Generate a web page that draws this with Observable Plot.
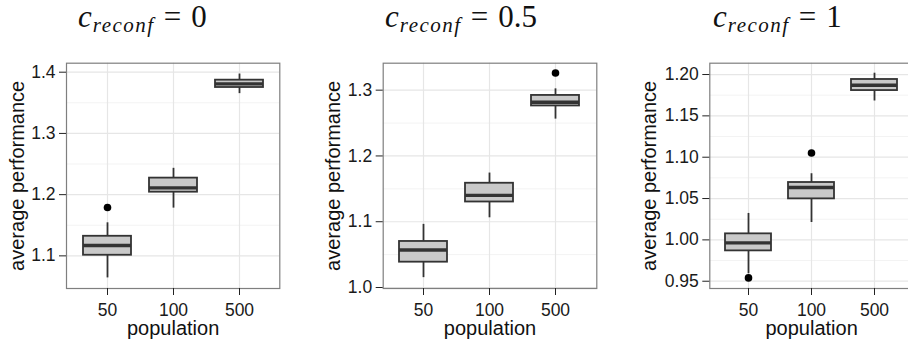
<!DOCTYPE html>
<html>
<head>
<meta charset="utf-8">
<script src="https://cdn.jsdelivr.net/npm/d3@7"></script>
<script src="https://cdn.jsdelivr.net/npm/@observablehq/plot@0.6"></script>
<style>
  body { margin: 0; background: white; }
  #root { position: relative; width: 908px; height: 341px; overflow: hidden; background: white; }
  .panel { position: absolute; top: 0; }
  .title { position: absolute; top: 1px; white-space: nowrap; line-height: 1; font-family: "Liberation Serif", "DejaVu Serif", serif; color: #111; }
  .title .c { font-style: italic; font-size: 31px; }
  .title .sub { font-style: italic; font-size: 21px; letter-spacing: 1.5px; position: relative; top: 5px; margin-left: 1px; }
  .title .eq { font-size: 31px; margin-left: 9px; }
  .title .num { font-size: 31px; margin-left: 10px; }
</style>
</head>
<body>
<div id="root"></div>
<script>
// ---- data ----
const populations = ["50", "100", "500"];
const panelLabels = ["0", "0.5", "1"];

// box statistics per panel (c_reconf = 0, 0.5, 1), each in population order 50, 100, 500
const whiskerLow  = [[1.064, 1.178, 1.365], [1.015, 1.106, 1.256], [0.959, 1.021, 1.168]];
const quartile1   = [[1.101, 1.204, 1.375], [1.0385, 1.130, 1.276], [0.9867, 1.0496, 1.1806]];
const median      = [[1.117, 1.211, 1.381], [1.057, 1.140, 1.2816], [0.9964, 1.0633, 1.187]];
const quartile3   = [[1.132, 1.227, 1.387], [1.070, 1.1585, 1.292], [1.0073, 1.0694, 1.194]];
const whiskerHigh = [[1.154, 1.243, 1.397], [1.096, 1.174, 1.302], [1.032, 1.080, 1.2016]];

// outliers
const outlierPanel = [0, 1, 2, 2];
const outlierPop   = ["50", "500", "50", "100"];
const outlierValue = [1.179, 1.326, 0.954, 1.105];

// y axes
const yDomains = [[1.0467, 1.4147], [0.9985, 1.341], [0.9412, 1.2137]];
const yTicks = [[1.1, 1.2, 1.3, 1.4], [1.0, 1.1, 1.2, 1.3], [0.95, 1.00, 1.05, 1.10, 1.15, 1.20]];
const yMinor = [[1.15, 1.25, 1.35], [1.05, 1.15, 1.25], [0.975, 1.025, 1.075, 1.125, 1.175]];
const yTickFormats = [".1f", ".1f", ".2f"];

// ---- layout (page pixels) ----
const svgLeft = [0, 300, 605];
const svgWidth = [300, 305, 320];
const mLeft = [66, 82.7, 104.3];
const mRight = [20.7, 8.7, 12];
const yLabelDx = [-42.7, -43.7, -54.3];
const titleLeft = [78, 385, 713];

const root = document.getElementById("root");

panelLabels.forEach((lab, p) => {
  const boxes = populations.map((pop, i) => ({
    pop,
    lo: whiskerLow[p][i], q1: quartile1[p][i], med: median[p][i],
    q3: quartile3[p][i], hi: whiskerHigh[p][i]
  }));
  const outs = outlierValue
    .map((v, k) => ({panel: outlierPanel[k], pop: outlierPop[k], value: v}))
    .filter(d => d.panel === p);

  const chart = Plot.plot({
    width: svgWidth[p],
    height: 341,
    marginLeft: mLeft[p],
    marginRight: mRight[p],
    marginTop: 62.7,
    marginBottom: 53,
    style: {fontFamily: "'Liberation Sans', Arial, Helvetica, sans-serif", fontSize: "17.5px", color: "#1a1a1a", background: "white", overflow: "visible"},
    x: {type: "band", domain: populations, paddingInner: 0.27, paddingOuter: 0.235, axis: null},
    y: {domain: yDomains[p], axis: null},
    marks: [
      Plot.gridY(yMinor[p], {stroke: "#f3f3f3", strokeOpacity: 1, strokeWidth: 1}),
      Plot.gridY(yTicks[p], {stroke: "#e6e6e6", strokeOpacity: 1, strokeWidth: 1.2}),
      Plot.gridX(populations, {stroke: "#e6e6e6", strokeOpacity: 1, strokeWidth: 1.2}),
      Plot.ruleX(boxes, {x: "pop", y1: "lo", y2: "hi", stroke: "#333", strokeWidth: 1.8}),
      Plot.barY(boxes, {x: "pop", y1: "q1", y2: "q3", fill: "#c9c9c9", stroke: "#333", strokeWidth: 1.8}),
      Plot.tickY(boxes, {x: "pop", y: "med", stroke: "#333", strokeWidth: 3.4}),
      Plot.dot(outs, {x: "pop", y: "value", r: 3.8, fill: "#000", stroke: "none"}),
      Plot.frame({stroke: "#7f7f7f", strokeWidth: 1.2}),
      Plot.axisY(yTicks[p], {tickSize: 7, tickPadding: 4, fontSize: 17.5, tickFormat: d3.format(yTickFormats[p]), label: null, stroke: "#222"}),
      Plot.axisX(populations, {tickSize: 7, tickPadding: 8, fontSize: 17.5, label: null, stroke: "#222"}),
      Plot.text(["average performance"], {frameAnchor: "left", rotate: -90, dx: yLabelDx[p], textAnchor: "middle", lineAnchor: "bottom", fontSize: 20, fill: "#111"}),
      Plot.text(["population"], {frameAnchor: "bottom", dy: 46.5, textAnchor: "middle", lineAnchor: "bottom", fontSize: 20, fill: "#111"})
    ]
  });
  chart.classList.add("panel");
  chart.style.left = svgLeft[p] + "px";
  root.appendChild(chart);

  const t = document.createElement("div");
  t.className = "title";
  t.style.left = titleLeft[p] + "px";
  const c = document.createElement("span"); c.className = "c"; c.textContent = "c";
  const s = document.createElement("span"); s.className = "sub"; s.textContent = "reconf";
  const e = document.createElement("span"); e.className = "eq"; e.textContent = "=";
  const n = document.createElement("span"); n.className = "num"; n.textContent = lab;
  t.append(c, s, e, n);
  root.appendChild(t);
});
</script>
</body>
</html>
